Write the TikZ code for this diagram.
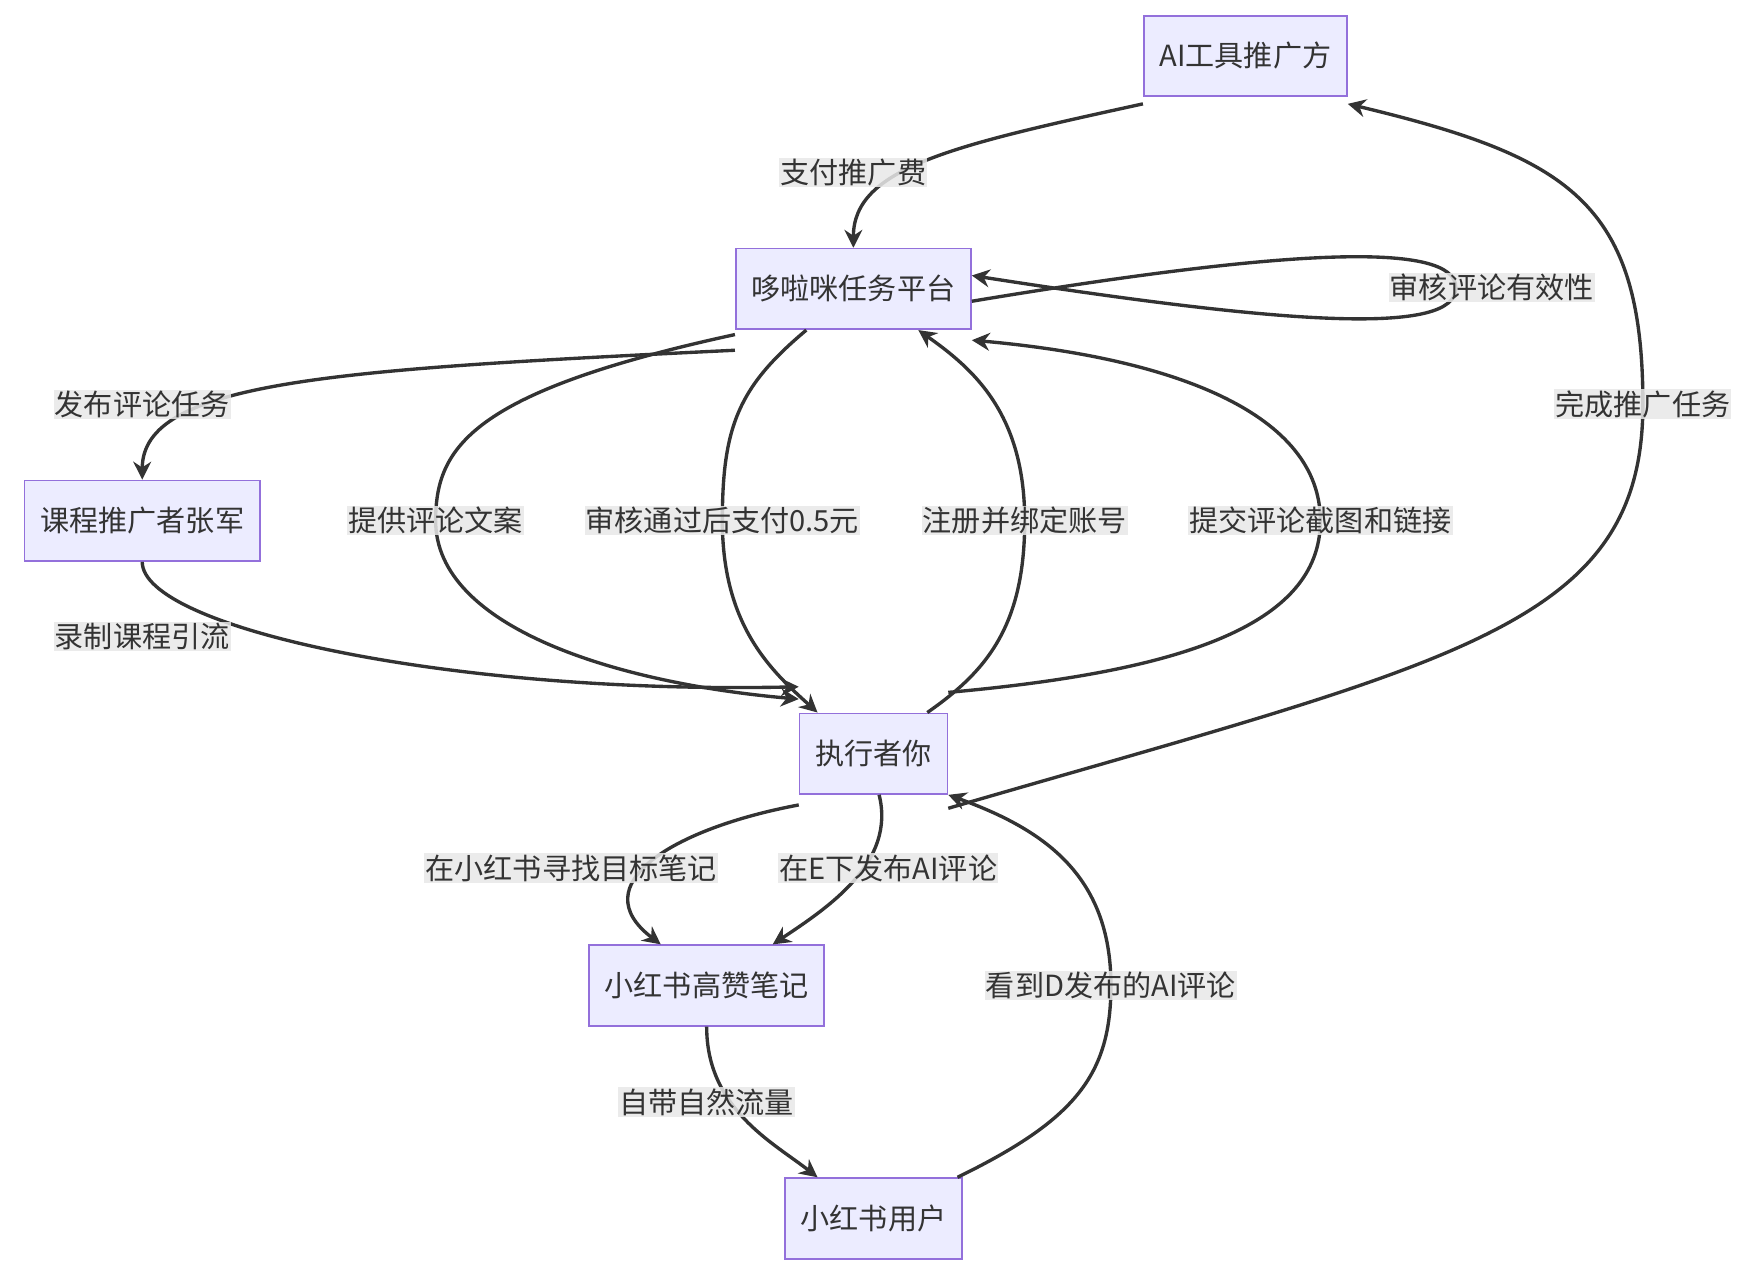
\documentclass[tikz,border=0pt]{standalone}
\usepackage{fontspec}
\setmainfont{Noto Sans CJK SC}
\usetikzlibrary{arrows.meta}
\definecolor{boxfill}{HTML}{ECECFF}
\definecolor{boxdraw}{HTML}{9370DB}
\definecolor{edgec}{HTML}{333333}
\definecolor{lblfill}{HTML}{E8E8E8}
\begin{document}
\begin{tikzpicture}[x=1pt,y=-1pt,
  box/.style={draw=boxdraw,fill=boxfill,line width=1.5pt,minimum height=72pt,inner xsep=14pt,font=\fontsize{26}{30}\selectfont,text=edgec},
  edge/.style={draw=edgec,line width=3pt,-{Stealth[length=16pt,width=16pt]}},
  lbl/.style={fill=lblfill,fill opacity=0.85,text opacity=1,inner sep=1pt,font=\fontsize{26}{30}\selectfont,text=edgec}]
\useasboundingbox (0,0) rectangle (1568,1139);
\node[box] (A) at (1112,50) {AI工具推广方};
\node[box] (B) at (762,258) {哆啦咪任务平台};
\node[box] (C) at (127,465) {课程推广者张军};
\node[box] (D) at (780,673) {执行者你};
\node[box] (E) at (631,880) {小红书高赞笔记};
\node[box] (F) at (780,1088) {小红书用户};

\draw[edge] ([yshift=-6]A.south west) .. controls (850,130) and (762,150) .. (B.north);
\draw[edge] ([yshift=-18]B.south west) .. controls (300,330) and (127,340) .. (C.north);
\draw[edge] ([yshift=-4]B.south west) .. controls (420,350) and (389,400) .. (389,465) .. controls (389,560) and (550,610) .. ([yshift=12]D.north west);
\draw[edge] ([xshift=-42]B.south) .. controls (660,345) and (645,380) .. (645,465) .. controls (645,560) and (690,600) .. ([xshift=-50]D.north);
\draw[edge] ([xshift=48]D.north) .. controls (880,600) and (915,560) .. (915,465) .. controls (915,370) and (870,330) .. ([xshift=58]B.south);
\draw[edge] ([yshift=18]D.north east) .. controls (1050,600) and (1179,560) .. (1179,465) .. controls (1179,370) and (1050,320) .. ([yshift=-9]B.south east);
\draw[edge] ([yshift=-11]B.east) .. controls (1150,222) and (1300,215) .. (1300,257) .. controls (1300,300) and (1150,290) .. ([yshift=12]B.east);
\draw[edge] ([yshift=-12]D.south east) .. controls (1300,590) and (1467,560) .. (1467,361) .. controls (1467,180) and (1400,140) .. ([yshift=-6]A.south east);
\draw[edge] (C.south) .. controls (127,560) and (400,620) .. ([yshift=23]D.north west);
\draw[edge] ([yshift=-9]D.south west) .. controls (600,740) and (520,790) .. ([xshift=-41]E.north);
\draw[edge] ([xshift=5]D.south) .. controls (800,770) and (740,810) .. ([xshift=59]E.north);
\draw[edge] (E.south) .. controls (631,990) and (690,1020) .. ([xshift=-50]F.north);
\draw[edge] ([xshift=75]F.north) .. controls (960,1000) and (992,960) .. (992,880) .. controls (992,780) and (930,740) .. (D.south east);

\node[lbl] (l1) at (762,154) {支付推广费};
\node[lbl] (l2) at (127,361) {发布评论任务};
\node[lbl] (l3) at (389,465) {提供评论文案};
\node[lbl] (l4) at (645,465) {审核通过后支付0.5元};
\node[lbl] (l5) at (915,465) {注册并绑定账号};
\node[lbl] (l6) at (1179,465) {提交评论截图和链接};
\node[lbl] (l7) at (1332,257) {审核评论有效性};
\node[lbl] (l8) at (1467,361) {完成推广任务};
\node[lbl] (l9) at (127,568) {录制课程引流};
\node[lbl] (l10) at (510,775) {在小红书寻找目标笔记};
\node[lbl] (l11) at (793,775) {在E下发布AI评论};
\node[lbl] (l12) at (631,984) {自带自然流量};
\node[lbl] (l13) at (992,880) {看到D发布的AI评论};
\end{tikzpicture}
\end{document}
